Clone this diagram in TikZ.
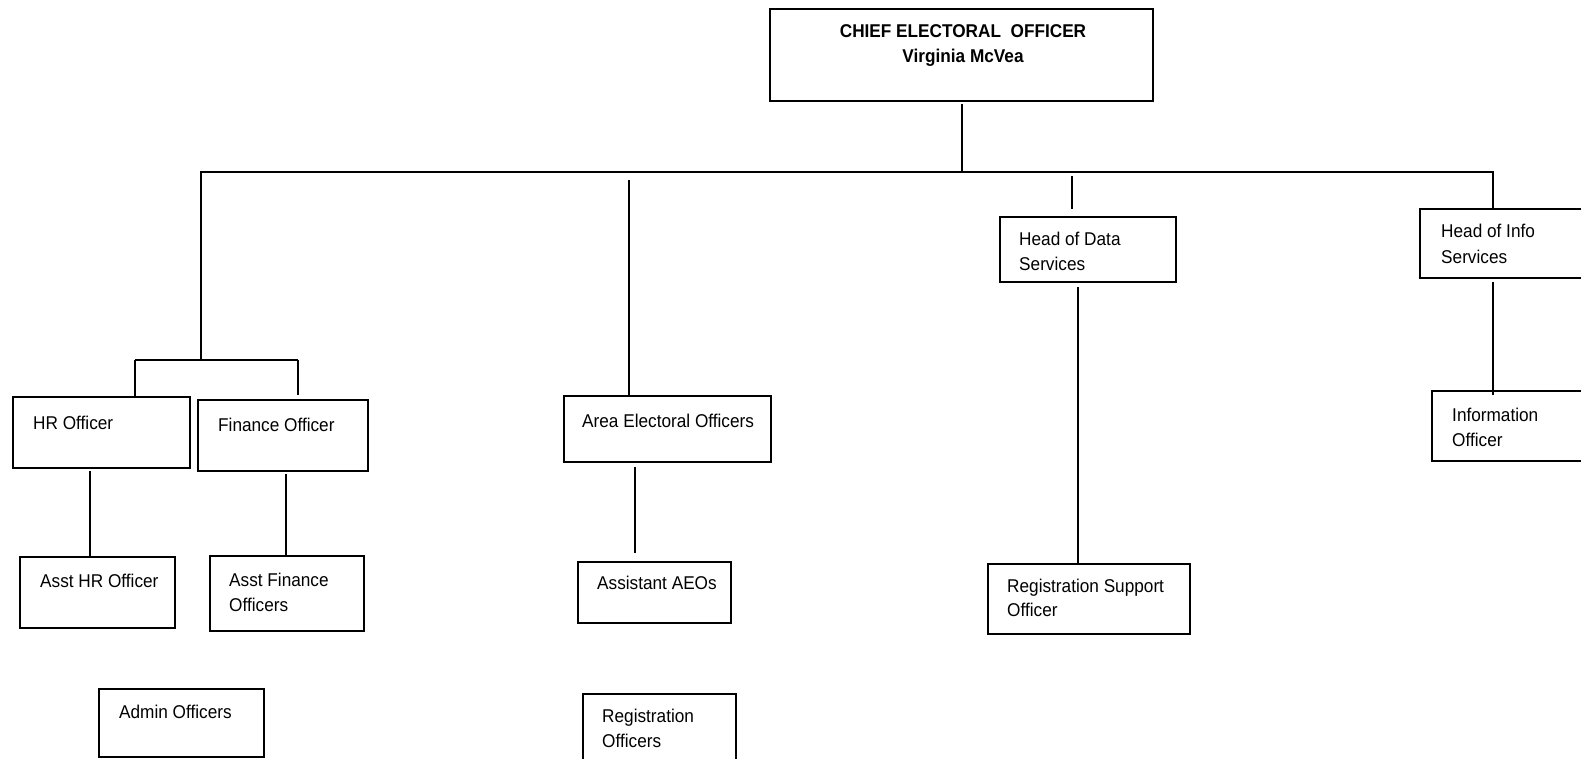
\documentclass[tikz,border=0pt]{standalone}
\usepackage{fontspec}
\setmainfont{Liberation Sans}
\newfontfamily\chartfont[FakeStretch=0.93]{Liberation Sans}
\begin{document}
\begin{tikzpicture}[x=1pt,y=1pt,
  box/.style={draw=black, line width=2pt, rectangle, inner sep=0pt, anchor=north west},
  txt/.style={anchor=base west, inner sep=0pt, font=\chartfont\fontsize{18.5}{24}\selectfont, text=black},
  btxt/.style={anchor=base, inner sep=0pt, font=\chartfont\fontsize{18.5}{24}\selectfont\bfseries, text=black},
  link/.style={draw=black, line width=2pt}]
\useasboundingbox (0,0) rectangle (1581,-759);
\clip (0,0) rectangle (1581,-759);
\fill[white] (0,0) rectangle (1581,-759);
% boxes
\node[box, minimum width=383, minimum height=92] (ceo) at (769,-8) {};
\node[box, minimum width=177, minimum height=71] (hr) at (12,-396) {};
\node[box, minimum width=170, minimum height=71] (fin) at (197,-399) {};
\node[box, minimum width=155, minimum height=71] (asthr) at (19,-556) {};
\node[box, minimum width=154, minimum height=75] (astfin) at (209,-555) {};
\node[box, minimum width=165, minimum height=68] (admin) at (98,-688) {};
\node[box, minimum width=207, minimum height=66] (aeo) at (563,-395) {};
\node[box, minimum width=153, minimum height=61] (astaeo) at (577,-561) {};
\node[box, minimum width=153, minimum height=80] (regoff) at (582,-693) {};
\node[box, minimum width=176, minimum height=65] (hds) at (999,-216) {};
\node[box, minimum width=202, minimum height=70] (regsup) at (987,-563) {};
\node[box, minimum width=180, minimum height=69] (his) at (1419,-208) {};
\node[box, minimum width=170, minimum height=70] (info) at (1431,-390) {};
% texts
\node[btxt] (ceoA) at (963,-38) {CHIEF ELECTORAL\ \ OFFICER};
\node[btxt] (ceoB) at (963,-63) {Virginia McVea};
\node[txt] (hrT) at (33,-429) {HR Officer};
\node[txt] (finT) at (218,-431) {Finance Officer};
\node[txt] (asthrT) at (40,-587) {Asst HR Officer};
\node[txt] (astfinA) at (229,-586) {Asst Finance};
\node[txt] (astfinB) at (229,-611) {Officers};
\node[txt] (adminT) at (119,-718) {Admin Officers};
\node[txt] (aeoT) at (582,-427) {Area Electoral Officers};
\node[txt] (astaeoT) at (597,-589) {Assistant AEOs};
\node[txt] (regoffA) at (602,-722) {Registration};
\node[txt] (regoffB) at (602,-747) {Officers};
\node[txt] (hdsA) at (1019,-246) {Head of Data};
\node[txt] (hdsB) at (1019,-270) {Services};
\node[txt] (regsupA) at (1007,-592) {Registration Support};
\node[txt] (regsupB) at (1007,-616) {Officer};
\node[txt] (hisA) at (1441,-238) {Head of Info};
\node[txt] (hisB) at (1441,-263) {Services};
\node[txt] (infoA) at (1452,-421) {Information};
\node[txt] (infoB) at (1452,-446) {Officer};
% connector points
\coordinate (ceoDown) at (962,-104);
\coordinate (busMid) at (962,-172);
\coordinate (busL) at (201,-172);
\coordinate (busR) at (1493,-172);
\coordinate (hfJoin) at (201,-360);
\coordinate (hfL) at (135,-360);
\coordinate (hfR) at (298,-360);
\coordinate (hrTop) at (135,-398);
\coordinate (finTop) at (298,-395);
\coordinate (hrBot) at (90,-471);
\coordinate (asthrTop) at (90,-556);
\coordinate (finBot) at (286,-474);
\coordinate (astfinTop) at (286,-555);
\coordinate (aeoUp) at (629,-180);
\coordinate (aeoTop) at (629,-395);
\coordinate (aeoBot) at (635,-467);
\coordinate (astaeoTop) at (635,-553);
\coordinate (hdsUp) at (1072,-176);
\coordinate (hdsTop) at (1072,-209);
\coordinate (hdsBot) at (1078,-287);
\coordinate (regsupTop) at (1078,-563);
\coordinate (hisTop) at (1493,-208);
\coordinate (hisBot) at (1493,-282);
\coordinate (infoTop) at (1493,-395);
% connectors
\draw[link] (ceoDown) -- (busMid);
\draw[link] (hfJoin) -- (busL) -- (busR) -- (hisTop);
\draw[link] (hfL) -- (hfR);
\draw[link] (hfL) -- (hrTop);
\draw[link] (hfR) -- (finTop);
\draw[link] (hrBot) -- (asthrTop);
\draw[link] (finBot) -- (astfinTop);
\draw[link] (aeoUp) -- (aeoTop);
\draw[link] (aeoBot) -- (astaeoTop);
\draw[link] (hdsUp) -- (hdsTop);
\draw[link] (hdsBot) -- (regsupTop);
\draw[link] (hisBot) -- (infoTop);
\end{tikzpicture}
\end{document}
